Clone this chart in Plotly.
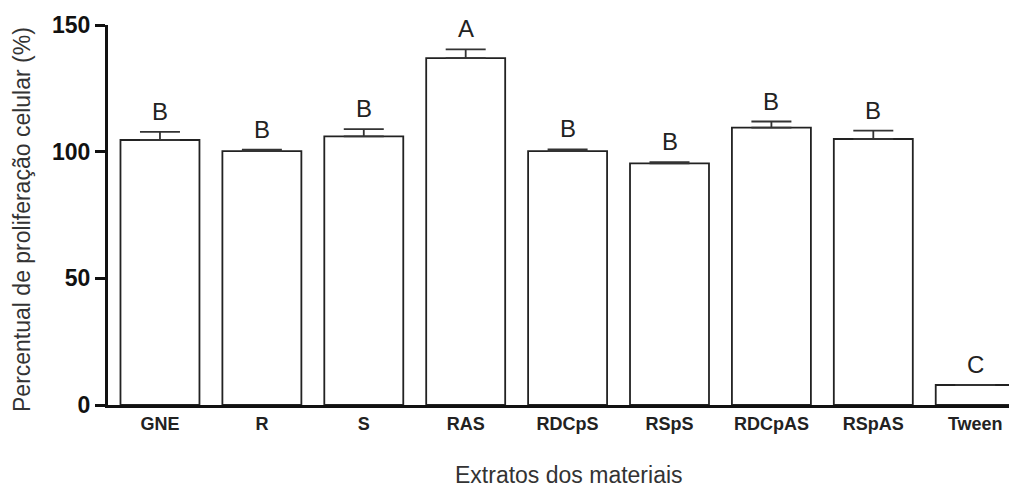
import plotly.graph_objects as go

categories = ["GNE", "R", "S", "RAS", "RDCpS", "RSpS", "RDCpAS", "RSpAS", "Tween"]
values = [104.6, 100.2, 106.0, 136.9, 100.2, 95.4, 109.5, 105.0, 7.9]
errors = [3.2, 0.6, 2.9, 3.5, 0.7, 0.5, 2.4, 3.3, 0.0]
letters = ["B", "B", "B", "A", "B", "B", "B", "B", "C"]
y_ticks = [0, 50, 100, 150]

FONT = "Arial, 'Liberation Sans', sans-serif"

fig = go.Figure()
fig.add_trace(go.Bar(
    x=categories,
    y=values,
    width=0.775,
    marker=dict(color="white", line=dict(color="#222222", width=1.8)),
    error_y=dict(type="data", symmetric=False, array=errors,
                 arrayminus=[0] * len(errors),
                 color="#333333", thickness=1.8, width=20),
    showlegend=False,
    hoverinfo="x+y",
))

annotations = []
for c, v, e, t in zip(categories, values, errors, letters):
    annotations.append(dict(
        x=c, y=v + e, xref="x", yref="y", text=t, showarrow=False,
        yanchor="bottom", yshift=5,
        font=dict(family=FONT, size=24, color="#222222"),
    ))

annotations.append(dict(
    x=0, y=0.5, xref="paper", yref="paper", xanchor="center", yanchor="middle",
    xshift=-86, yshift=-5, textangle=-90, showarrow=False,
    text="Percentual de proliferação celular (%)",
    font=dict(family=FONT, size=23, color="#333333"),
))
annotations.append(dict(
    x=0.5, y=0, xref="paper", yref="paper", xanchor="center", yanchor="middle",
    yshift=-70, xshift=6, showarrow=False,
    text="Extratos dos materiais",
    font=dict(family=FONT, size=23, color="#333333"),
))

fig.update_layout(
    width=1009, height=480,
    margin=dict(l=100, r=0, t=17, b=83),
    paper_bgcolor="white", plot_bgcolor="white",
    annotations=annotations,
    font=dict(family=FONT),
    xaxis=dict(
        range=[-0.51, 8.41],
        showline=True, linecolor="#111111", linewidth=3,
        ticks="", showgrid=False, zeroline=False,
        tickfont=dict(family=FONT, size=18, color="#222222", weight="bold"),
    ),
    yaxis=dict(
        range=[0, 150],
        tickvals=y_ticks,
        showline=True, linecolor="#111111", linewidth=3,
        ticks="outside", ticklen=10, tickwidth=3, tickcolor="#111111",
        showgrid=False, zeroline=False,
        tickfont=dict(family=FONT, size=23, color="#111111", weight="bold"),
    ),
)

fig.write_html("out.html")
